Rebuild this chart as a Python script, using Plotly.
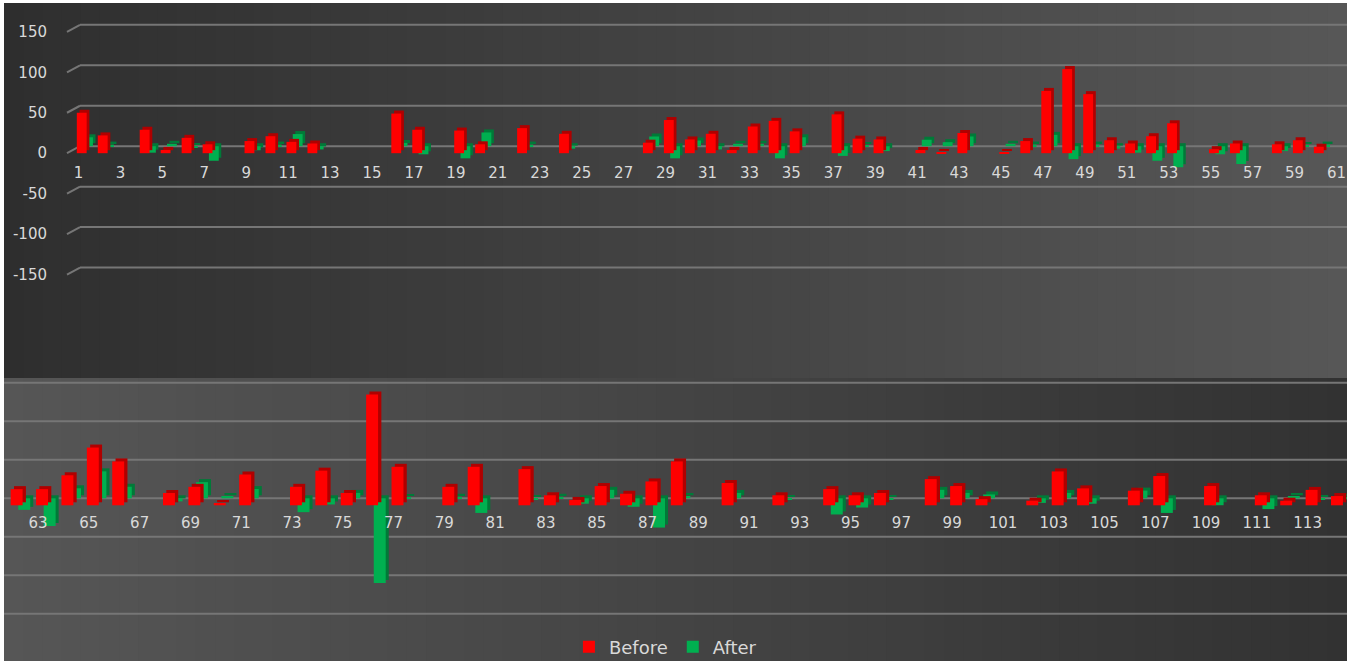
import plotly.graph_objects as go

# ---------------- data ----------------
top_categories = list(range(1, 62))
top_before = [50, 22, 0, 29, 4, 19, 11, 0, 15, 21, 14, 12, 0, 0, 0, 49, 29, 0, 28, 11,
              0, 31, 0, 24, 0, 0, 0, 13, 41, 17, 24, 4, 33, 40, 27, 0, 48, 18, 17, 0,
              4, 1, 25, 0, 1, 15, 77, 104, 73, 16, 12, 21, 37, 0, 5, 12, 0, 11, 16, 8, 0]
top_after = [11, 2, 0, -8, 3, -2, -18, 0, -5, 2, 15, -4, 0, 0, 0, 4, -10, 0, -15, 17,
             0, 2, 0, -3, 0, 0, 0, 12, -15, 7, -4, 3, 3, -15, 11, 0, -12, 1, -6, 0,
             8, 5, 12, 0, 3, 2, 14, -16, 2, -3, -8, -18, -26, 0, -10, -22, 0, -6, 1, 2, 0]

bottom_categories = list(range(62, 115))
bottom_before = [21, 21, 39, 75, 57, 0, 16, 24, 3, 40, 0, 24, 45, 16, 144, 50, 0, 24, 50, 0,
                 47, 13, 7, 25, 15, 31, 57, 0, 29, 0, 13, 0, 21, 13, 16, 0, 34, 25, 8, 0,
                 6, 44, 22, 0, 19, 38, 0, 25, 0, 13, 6, 20, 12]
bottom_after = [-15, -36, 13, 35, 15, 0, -4, 21, 3, 12, 0, -18, -8, 7, -110, 1, 0, 2, -19, 0,
                -2, 2, -7, 11, -11, -38, 3, 0, 7, 0, -2, 0, -21, -12, -1, 0, 11, 7, 5, 0,
                -6, 7, -7, 0, 10, -19, 0, -9, 0, -14, 3, -1, 2]

top_tick_values = list(range(1, 62, 2))
top_tick_labels = [str(v) for v in top_tick_values]
bottom_tick_values = list(range(63, 114, 2))
bottom_tick_labels = [str(v) for v in bottom_tick_values]
y_tick_values = [-150, -100, -50, 0, 50, 100, 150]
y_tick_labels = [str(v) for v in y_tick_values]
series_names = ["Before", "After"]

# ---------------- geometry / style ----------------
W, H = 1347, 661
RED, RED_SIDE = "#ff0000", "#b00000"
GREEN, GREEN_SIDE = "#00b050", "#007a38"
TEXT = "#d9d9d9"
GRID = "#767676"
FONT = "DejaVu Sans"


def py(p):
    return 1 - p / H


TOP = dict(t=3, b=378, zero=146.2, k=0.809)
BOT = dict(t=381, b=661, zero=498.3, k=0.770)


def yr(panel, shift):
    k = panel["k"]
    hi = (panel["zero"] - panel["t"]) / k + shift / k
    lo = (panel["zero"] - panel["b"]) / k + shift / k
    return [lo, hi]


# depth layers (pixels downward relative to back wall zero)
LAYERS = [("gside", -3), ("gfront", 0), ("rside", 4), ("rfront", 7)]
BAR_W = 0.47
OFFS = {"gside": 0.34, "gfront": 0.22, "rside": 0.05, "rfront": -0.08}

fig = go.Figure()


def add_panel(xname, ynames, cats, before, after, legend):
    specs = {
        "gside": (after, GREEN_SIDE, False, None),
        "gfront": (after, GREEN, legend, series_names[1]),
        "rside": (before, RED_SIDE, False, None),
        "rfront": (before, RED, legend, series_names[0]),
    }
    for (key, _), yname in zip(LAYERS, ynames):
        vals, col, show, name = specs[key]
        fig.add_trace(go.Bar(
            x=cats, y=vals, xaxis=xname, yaxis=yname,
            width=BAR_W, offset=OFFS[key],
            marker=dict(color=col, line=dict(width=0)),
            name=name if name else key, showlegend=show,
            legendrank=1 if name == "Before" else 2,
            hoverinfo="x+y",
        ))


add_panel("x", ["y", "y2", "y3", "y4"], top_categories, top_before, top_after, True)
add_panel("x2", ["y5", "y6", "y7", "y8"], bottom_categories, bottom_before, bottom_after, False)

# ---------------- background gradients ----------------
shapes = []
N = 70
for i in range(N):
    x0 = 4 + (W - 4) * i / N
    x1 = 4 + (W - 4) * (i + 1) / N + 1
    t = (x0 + x1) / 2 / W
    v = int(round(46 + 41 * t))
    shapes.append(dict(type="rect", xref="paper", yref="paper", x0=x0 / W, x1=x1 / W,
                       y0=py(TOP["b"]), y1=py(TOP["t"]), fillcolor=f"rgb({v},{v},{v})",
                       line=dict(width=0), layer="below"))
    v2 = int(round(86 - 36 * t))
    shapes.append(dict(type="rect", xref="paper", yref="paper", x0=x0 / W, x1=x1 / W,
                       y0=0, y1=py(TOP["b"]), fillcolor=f"rgb({v2},{v2},{v2})",
                       line=dict(width=0), layer="below"))

# ---------------- 3D style gridlines ----------------
front_shift_top = 7 / TOP["k"]
for v in y_tick_values:
    shapes.append(dict(type="line", xref="paper", yref="y2", x0=67 / W, x1=80 / W,
                       y0=v - front_shift_top, y1=v, line=dict(color=GRID, width=2), layer="below"))
    shapes.append(dict(type="line", xref="paper", yref="y2", x0=80 / W, x1=1,
                       y0=v, y1=v, line=dict(color=GRID, width=2), layer="below"))
    shapes.append(dict(type="line", xref="paper", yref="y6", x0=4 / W, x1=1,
                       y0=v, y1=v, line=dict(color=GRID, width=2), layer="below"))

hidden = dict(visible=False, showgrid=False, zeroline=False, fixedrange=True)

layout_axes = {}
layout_axes["xaxis"] = dict(domain=[68 / W, 1], range=[0.5, 61.5], anchor="free", position=py(162),
                            tickmode="array", tickvals=top_tick_values, ticktext=top_tick_labels,
                            showgrid=False, zeroline=False, showline=False, ticks="", fixedrange=True,
                            ticklabeloverflow="allow",
                            tickfont=dict(family=FONT, size=15, color=TEXT))
layout_axes["xaxis2"] = dict(domain=[0, 1], range=[61.5, 114.55], anchor="free", position=py(512),
                             tickmode="array", tickvals=bottom_tick_values, ticktext=bottom_tick_labels,
                             showgrid=False, zeroline=False, showline=False, ticks="", fixedrange=True,
                             ticklabeloverflow="allow",
                             tickfont=dict(family=FONT, size=15, color=TEXT))

top_names = ["yaxis", "yaxis2", "yaxis3", "yaxis4"]
bot_names = ["yaxis5", "yaxis6", "yaxis7", "yaxis8"]
for i, ((key, shift), nm) in enumerate(zip(LAYERS, top_names)):
    ax = dict(hidden, domain=[py(TOP["b"]), py(TOP["t"])], range=yr(TOP, shift), anchor="x")
    if i > 0:
        ax["overlaying"] = "y"
    if key == "rfront":
        ax.update(visible=True, showticklabels=True, tickmode="array", tickvals=y_tick_values,
                  ticktext=y_tick_labels, showline=False, ticks="", ticklabelstandoff=20,
                  tickfont=dict(family=FONT, size=15, color=TEXT))
    layout_axes[nm] = ax
for i, ((key, shift), nm) in enumerate(zip(LAYERS, bot_names)):
    ax = dict(hidden, domain=[py(BOT["b"]), py(BOT["t"])], range=yr(BOT, shift), anchor="x2")
    if i > 0:
        ax["overlaying"] = "y5"
    layout_axes[nm] = ax

fig.update_layout(
    width=W, height=H,
    margin=dict(l=0, r=0, t=0, b=0, pad=0, autoexpand=False),
    paper_bgcolor="#ffffff",
    plot_bgcolor="rgba(0,0,0,0)",
    barmode="overlay",
    shapes=shapes,
    showlegend=True,
    legend=dict(orientation="h", x=0.494, xanchor="center", y=py(647), yanchor="middle",
                bgcolor="rgba(0,0,0,0)", font=dict(family=FONT, size=18, color=TEXT),
                itemwidth=30, traceorder="normal"),
    **layout_axes,
)

post = (
    "var de=document.documentElement, b=document.body;"
    "de.style.margin='0'; de.style.padding='0'; de.style.overflow='hidden';"
    "b.style.margin='0'; b.style.padding='0'; b.style.overflow='hidden';"
)
fig.write_html("out.html", config={"displayModeBar": False}, post_script=post)
